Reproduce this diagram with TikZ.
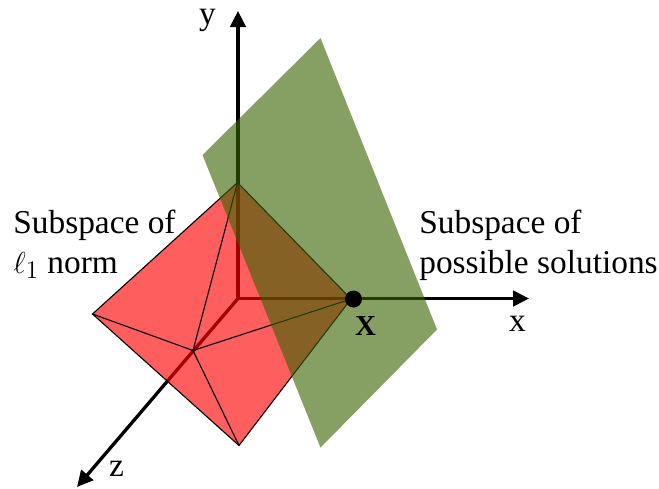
\documentclass[tikz,border=0pt]{standalone}
\usepackage{fontspec}
\setmainfont{Liberation Serif}
\usepackage{amsmath}
\usepackage{xcolor}
\usetikzlibrary{arrows.meta}
\definecolor{planegreen}{RGB}{57,100,2}

\begin{document}
\begin{tikzpicture}[
  x=0.02cm, y=-0.02cm,
  axis/.style={-{Triangle[length=0.32cm, width=0.31cm]}, line width=0.066cm, black},
  edge/.style={draw=black, line width=0.022cm},
  face/.style={fill=red, fill opacity=0.63},
  plane/.style={fill=planegreen, fill opacity=0.61},
  lab/.style={font=\fontsize{19}{22.7}\selectfont, inner sep=0pt, align=left},
  dot/.style={circle, fill=black, minimum size=0.34cm, inner sep=0pt}
]
\useasboundingbox (0, 0) rectangle (659, 488);

% --- Axes ---
\coordinate (o) at (238, 298.5);
\coordinate (xtip) at (529, 298.5);
\coordinate (ytip) at (238, 11);
\coordinate (ztip) at (77, 487);
\draw[axis] (o) -- (xtip);
\draw[axis] (o) -- (ytip);
\draw[axis] (o) -- (ztip);

% --- Octahedron ---
\coordinate (top) at (237.5, 182.5);
\coordinate (left) at (92.5, 314);
\coordinate (bottom) at (239, 445.5);
\coordinate (right) at (351, 299);
\coordinate (front) at (193, 350.5);
\fill[face] (top) -- (left) -- (bottom) -- (right) -- cycle;
\draw[edge] (top) -- (left) -- (bottom) -- (right) -- cycle;
\draw[edge] (front) -- (top);
\draw[edge] (front) -- (left);
\draw[edge] (front) -- (bottom);
\draw[edge] (front) -- (right);

% --- Plane of solutions ---
\coordinate (ptop) at (320.5, 38);
\coordinate (pleft) at (202.5, 155);
\coordinate (pbottom) at (320.5, 447.5);
\coordinate (pright) at (437, 329.5);
\fill[plane] (ptop) -- (pleft) -- (pbottom) -- (pright) -- cycle;

% Solution point
\node[dot] (sol) at (353.5, 299) {};
\node[font=\fontsize{16.5}{18}\selectfont\bfseries, inner sep=0pt, anchor=base] (sollab) at (365.5, 335) {X};

% --- Labels ---
\node[lab, anchor=base] (xlab) at (517.5, 331) {x};
\node[lab, anchor=base] (ylab) at (207.5, 24) {y};
\node[lab, anchor=base] (zlab) at (116.5, 476) {z};
\node[lab, anchor=base west] (normlab) at (13, 273) {Subspace of\\$\ell_1$ norm};
\node[lab, anchor=base west] (sollab2) at (419, 273) {Subspace of\\possible solutions};

\end{tikzpicture}
\end{document}
